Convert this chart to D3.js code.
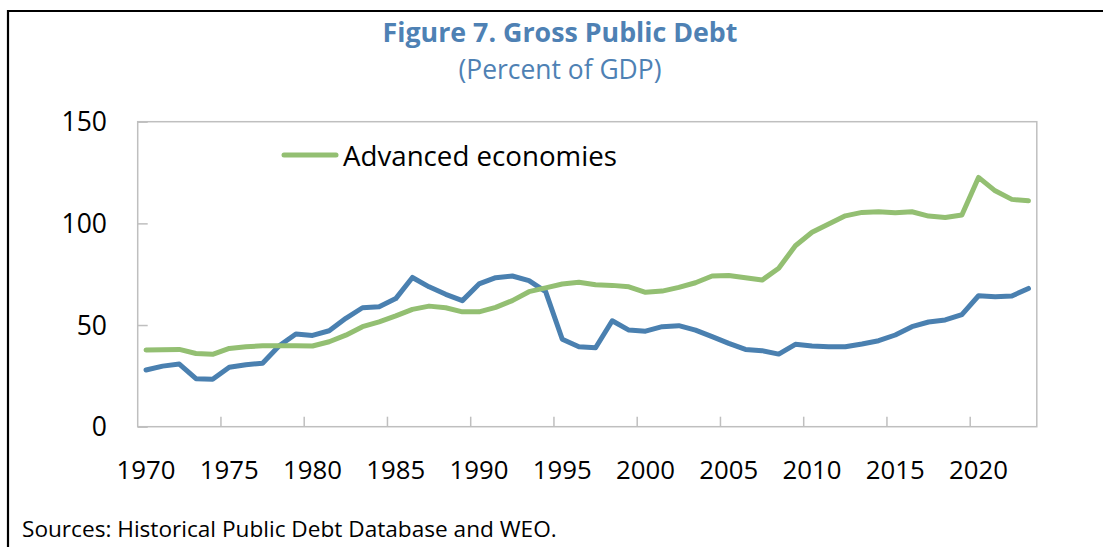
<!DOCTYPE html>
<html>
<head>
<meta charset="utf-8">
<script src="https://cdn.jsdelivr.net/npm/d3@7"></script>
<style>
html, body { margin: 0; padding: 0; background: #fff; }
svg { display: block; }
text { font-family: "Open Sans", "Noto Sans", sans-serif; }
</style>
</head>
<body>
<svg id="chart" width="1103" height="547"></svg>
<script>
const years = d3.range(1970, 2024);
const advancedEconomies = [
  37.7, 37.8, 38.0, 36.0, 35.6, 38.5, 39.3, 39.8, 39.8, 39.8,
  39.7, 41.8, 45.0, 49.2, 51.6, 54.5, 57.7, 59.3, 58.5, 56.5,
  56.5, 58.7, 62.0, 66.4, 68.3, 70.2, 71.0, 69.8, 69.5, 68.8,
  66.1, 66.7, 68.5, 70.8, 74.1, 74.4, 73.3, 72.1, 77.9, 89.0,
  95.6, 99.7, 103.7, 105.4, 105.7, 105.2, 105.7, 103.6, 102.9, 104.1,
  122.6, 116.0, 111.8, 111.1
];
const otherSeries = [
  27.9, 29.8, 30.8, 23.6, 23.3, 29.2, 30.5, 31.2, 39.8, 45.6,
  44.9, 47.2, 53.3, 58.5, 59.0, 63.0, 73.4, 68.8, 65.1, 62.0,
  70.2, 73.3, 74.1, 71.8, 66.4, 43.0, 39.3, 38.8, 52.1, 47.5,
  47.0, 49.2, 49.7, 47.5, 44.3, 41.0, 38.0, 37.4, 35.7, 40.5,
  39.7, 39.3, 39.3, 40.7, 42.3, 45.1, 49.2, 51.5, 52.5, 55.1,
  64.4, 63.9, 64.3, 68.0
];
const yTicks = [0, 50, 100, 150];
const xTickLabels = [1970, 1975, 1980, 1985, 1990, 1995, 2000, 2005, 2010, 2015, 2020];
const titleText = "Figure 7. Gross Public Debt";
const subtitleText = "(Percent of GDP)";
const legendLabel = "Advanced economies";
const sourceText = "Sources: Historical Public Debt Database and WEO.";

const svg = d3.select("#chart");
const pL = 137.7, pR = 1036.8, pT = 121.7, pB = 426.7;
const gridColor = "#bfbfbf";
const green = "#93bf72", blue = "#4a80b0", titleColor = "#4e81b4";

const x = d3.scaleBand().domain(years).range([pL, pR]).paddingInner(0).paddingOuter(0);
const y = d3.scaleLinear().domain([0, 150]).range([pB, pT]);

function fit(sel, target) {
  const w = sel.node().getComputedTextLength();
  const fs = parseFloat(sel.attr("font-size"));
  sel.attr("font-size", fs * target / w);
}

// figure frame (top + left)
svg.append("path").attr("d", "M8,547 L8,11 L1103,11")
  .attr("fill", "none").attr("stroke", "#000").attr("stroke-width", 2.2);

// title
const t1 = svg.append("text").attr("x", 560).attr("y", 42).attr("text-anchor", "middle")
  .attr("font-size", 25).attr("font-weight", "bold").attr("fill", titleColor).text(titleText);
fit(t1, 355);
const t2 = svg.append("text").attr("x", 560).attr("y", 79).attr("text-anchor", "middle")
  .attr("font-size", 22).attr("fill", titleColor).text(subtitleText);
fit(t2, 203);

// plot box
svg.append("rect").attr("x", pL).attr("y", pT).attr("width", pR - pL).attr("height", pB - pT)
  .attr("fill", "none").attr("stroke", gridColor).attr("stroke-width", 1.5);

// y axis
const yAxis = d3.axisRight(y).tickValues(yTicks).tickSize(10).tickFormat("");
const gy = svg.append("g").attr("transform", `translate(${pL},0)`).call(yAxis);
gy.select(".domain").remove();
gy.selectAll("line").attr("stroke", gridColor).attr("stroke-width", 1.5);
svg.append("g").selectAll("text").data(yTicks).join("text")
  .attr("x", 107).attr("y", d => y(d)).attr("dy", "0.36em").attr("text-anchor", "end")
  .attr("font-size", 26.5).attr("fill", "#000").text(d => d);

// x axis ticks at category boundaries every 5 years
const xTickYears = years.filter(d => (d - 1970) % 5 === 0 && d !== 1970);
svg.append("g").selectAll("line").data(xTickYears).join("line")
  .attr("x1", d => x(d)).attr("x2", d => x(d))
  .attr("y1", pB).attr("y2", pB - 10)
  .attr("stroke", gridColor).attr("stroke-width", 1.5);
const xl = svg.append("g").selectAll("text").data(xTickLabels).join("text")
  .attr("x", d => x(d) + x.bandwidth() / 2).attr("y", 479).attr("text-anchor", "middle")
  .attr("font-size", 24).attr("fill", "#000").text(d => d);
{
  const w = xl.node().getComputedTextLength();
  xl.attr("font-size", 24 * 59 / w);
}

// lines
const line = d3.line().x((d, i) => x(years[i]) + x.bandwidth() / 2).y(d => y(d));
svg.append("path").datum(otherSeries).attr("d", line).attr("fill", "none")
  .attr("stroke", blue).attr("stroke-width", 5).attr("stroke-linejoin", "round").attr("stroke-linecap", "round");
svg.append("path").datum(advancedEconomies).attr("d", line).attr("fill", "none")
  .attr("stroke", green).attr("stroke-width", 5).attr("stroke-linejoin", "round").attr("stroke-linecap", "round");

// legend
svg.append("line").attr("x1", 284).attr("x2", 336).attr("y1", 155).attr("y2", 155)
  .attr("stroke", green).attr("stroke-width", 5).attr("stroke-linecap", "round");
const lg = svg.append("text").attr("x", 343).attr("y", 166).attr("font-size", 24).attr("fill", "#000").text(legendLabel);
fit(lg, 274);

// source
const src = svg.append("text").attr("x", 22).attr("y", 537).attr("font-size", 20).attr("fill", "#000").text(sourceText);
fit(src, 535);
</script>
</body>
</html>
